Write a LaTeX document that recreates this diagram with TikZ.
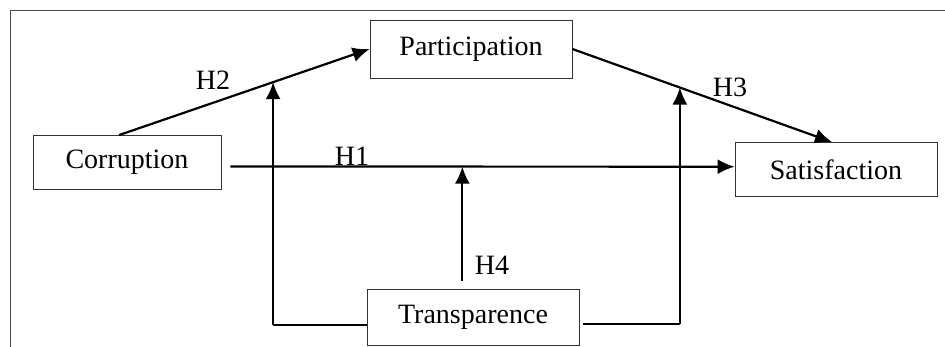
\documentclass[tikz,border=0pt]{standalone}
\usepackage{fontspec}
\setmainfont{Liberation Serif}
\usepackage{tikz}
\usetikzlibrary{arrows.meta,calc}
\tikzset{
    >={Latex[length=8.5pt,width=7.5pt]},
    concept/.style={
        rectangle,
        draw=black!80, line width=0.4pt,
        minimum height=27pt,
        text centered,
        font={\fontsize{14pt}{16}\selectfont}
    },
    arr/.style={draw, line width=1.1pt, ->},
    link/.style={draw, line width=0.55pt},
    hlabel/.style={font={\fontsize{14pt}{16}\selectfont}},
}
\begin{document}
\begin{tikzpicture}[x=0.5pt, y=-0.5pt]
\useasboundingbox (0,0) rectangle (945,347);
\draw [line width=0.4pt, black!70] (945,10) -- (10,10) -- (10,347);

\node [concept, minimum width=94pt] (corruption) at (127,162.5) {Corruption};
\node [concept, minimum width=101pt, minimum height=29pt] (participation) at (471,49) {Participation};
\node [concept, minimum width=101pt] (satisfaction) at (836,169.5) {Satisfaction};
\node [concept, minimum width=106pt, minimum height=28pt] (transparence) at (473,317.5) {Transparence};

% direct paths
\draw [arr] ([xshift=-4pt]corruption.north) -- coordinate[pos=0.615] (h2mid) (participation.west);
\draw [arr] (participation.east) -- coordinate[pos=0.414] (h3mid) ([xshift=-2pt]satisfaction.north);
\draw [arr] ([xshift=4.5pt,yshift=-2pt]corruption.east) -- coordinate[pos=0.46] (h1mid) ([yshift=1.4pt]satisfaction.west);

% moderation by transparence
\coordinate (tl) at ($(h2mid |- transparence.west)+(0,7.5)$);
\coordinate (tr) at ($(h3mid |- transparence.east)+(0,6.5)$);
\draw [link] ([yshift=-3.75pt]transparence.west) -- (tl);
\draw [arr] (tl) -- (h2mid);
\draw [link] ([xshift=2pt,yshift=-3.25pt]transparence.east) -- (tr);
\draw [arr] (tr) -- (h3mid);
\draw [arr] ($(h1mid |- transparence.north)+(0,-8)$) -- (h1mid);

\node [hlabel] (h1) at (352,156) {H1};
\node [hlabel] (h2) at (213,80) {H2};
\node [hlabel] (h3) at (730,87) {H3};
\node [hlabel] (h4) at (492,265) {H4};

\end{tikzpicture}
\end{document}
